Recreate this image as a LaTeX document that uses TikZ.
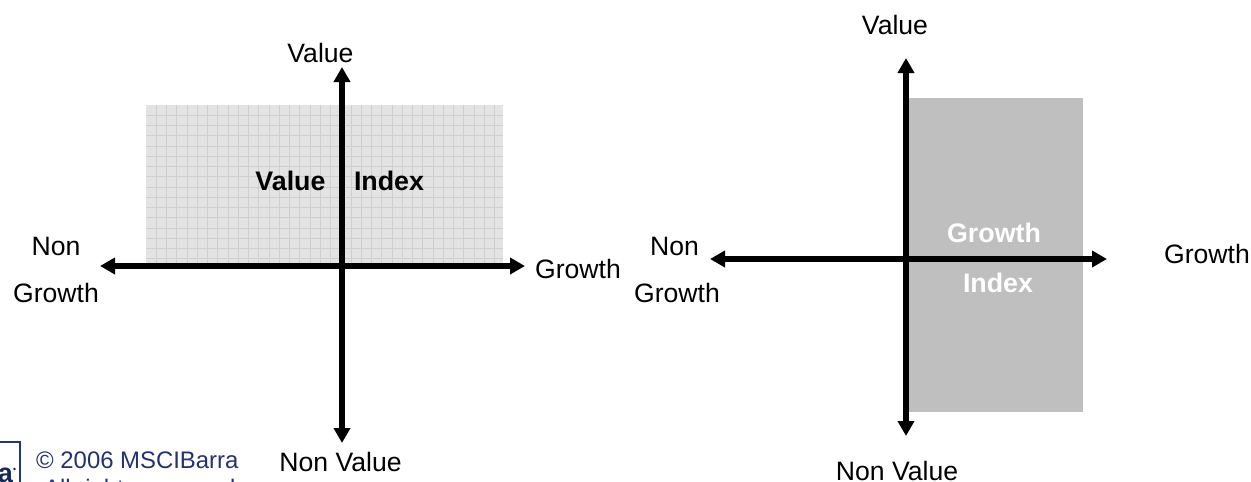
\documentclass[tikz,border=0pt]{standalone}
\usepackage{fontspec}
\setmainfont{Liberation Sans}
\usetikzlibrary{arrows.meta}
\definecolor{navy}{HTML}{26326E}
\definecolor{logoblue}{HTML}{1F3A7A}
\tikzset{
  x=1pt,y=-1pt,
  lab/.style={font=\fontsize{26.6}{26.6}\selectfont,inner sep=0pt,text=black},
  blab/.style={font=\fontsize{26.8}{26.8}\selectfont\bfseries,inner sep=0pt,text=black},
  wlab/.style={font=\fontsize{26.8}{26.8}\selectfont\bfseries,inner sep=0pt,text=white},
  note/.style={font=\fontsize{23.9}{23.9}\selectfont,inner sep=0pt,text=navy,anchor=west},
  axis/.style={line width=5.2pt,{Triangle[width=16pt,length=15pt]}-{Triangle[width=16pt,length=15pt]}},
}
\begin{document}
\begin{tikzpicture}
\useasboundingbox (0,0) rectangle (1251,482);
\clip (0,0) rectangle (1251,482);
\fill[white] (0,0) rectangle (1251,482);
% left panel
\fill[black!11] (146,105) rectangle (503,265);
\begin{scope}
\clip (146,105) rectangle (503,265);
\foreach \i in {1,...,35} \draw[black!19,line width=0.9pt] (146+\i*10.25,105) -- (146+\i*10.25,265);
\foreach \i in {1,...,16} \draw[black!19,line width=0.9pt] (146,105+\i*10.25) -- (503,105+\i*10.25);
\end{scope}
\coordinate (lt) at (342,67);
\coordinate (lb) at (342,443);
\coordinate (ll) at (100,266);
\coordinate (lr) at (525,266);
\draw[axis] (ll) -- (lr);
\draw[axis] (lt) -- (lb);
\node[lab] (lv) at (320.5,53) {Value};
\node[lab] (lnv) at (340.5,462) {Non Value};
\node[lab] (ln) at (56,246) {Non};
\node[lab] (lng) at (56,293) {Growth};
\node[lab] (lg) at (578,269) {Growth};
\node[blab] (lvi) at (290.5,181) {Value};
\node[blab] (lix) at (389,181) {Index};
% right panel
\fill[black!25] (908,98) rectangle (1083,412);
\coordinate (rt) at (906,58);
\coordinate (rb) at (906,436);
\coordinate (rl) at (710,259);
\coordinate (rr) at (1107,259);
\draw[axis] (rl) -- (rr);
\draw[axis] (rt) -- (rb);
\node[lab] (rv) at (895,25) {Value};
\node[lab] (rnv) at (897,471) {Non Value};
\node[lab] (rn) at (674.5,246) {Non};
\node[lab] (rng) at (677,293) {Growth};
\node[lab] (rg) at (1207,254) {Growth};
\node[wlab] (rgi) at (994,233) {Growth};
\node[wlab] (rix) at (998,283) {Index};
% footer
\draw[logoblue,line width=1.6pt] (-5,442) rectangle (20,490);
\node[font=\fontsize{27}{27}\selectfont\bfseries,text=logoblue!70!black,inner sep=0pt,anchor=base east] (la) at (13,482) {a};
\fill[logoblue!70!black] (14.5,469) circle (1.3);
\node[note] (c1) at (36,460) {© 2006 MSCIBarra};
\node[note] (c2) at (44,490) {All rights reserved};
\end{tikzpicture}
\end{document}
